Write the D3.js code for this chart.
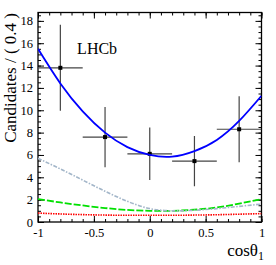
<!DOCTYPE html>
<html>
<head>
<meta charset="utf-8">
<script src="https://cdn.jsdelivr.net/npm/d3@7"></script>
<style>
  body { margin: 0; background: #fff; }
  svg, svg text { font-family: "Liberation Serif", "DejaVu Serif", serif; }
</style>
</head>
<body>
<div id="chart"></div>
<script>
// data points (bin centres, contents, errors)
const binCentres = [-0.8, -0.4, 0, 0.4, 0.8];
const binCounts = [13.8, 7.6, 6.1, 5.45, 8.3];
const binErrors = [3.85, 2.7, 2.35, 2.25, 2.95];
const binHalfWidth = 0.2;

// fit curves
const curveX = [-1, -0.8, -0.6, -0.4, -0.2, 0, 0.2, 0.4, 0.6, 0.8, 1];
const totalFit = [15.5, 12.4, 9.9, 8.0, 6.7, 6.0, 5.85, 6.35, 7.35, 9.05, 11.3];
const grayComp = [5.7, 4.75, 3.75, 2.75, 1.85, 1.2, 1.0, 1.05, 1.2, 1.4, 1.6];
const greenComp = [2.05, 1.75, 1.48, 1.25, 1.08, 1.0, 1.0, 1.1, 1.3, 1.65, 2.05];
const redComp = [0.8, 0.72, 0.66, 0.62, 0.6, 0.6, 0.6, 0.62, 0.65, 0.7, 0.75];

const xMajor = [-1, -0.5, 0, 0.5, 1];
const xTickLabels = ["-1", "-0.5", "0", "0.5", "1"];
const yMajor = [0, 2, 4, 6, 8, 10, 12, 14, 16, 18];

const W = 276, H = 265;
const margin = {top: 12.5, right: 14.5, bottom: 43, left: 38};
const width = W - margin.left - margin.right,
      height = H - margin.top - margin.bottom;

const svg = d3.select("#chart").append("svg").attr("width", W).attr("height", H)
  .attr("font-family", "Liberation Serif");
const g = svg.append("g").attr("transform", "translate(" + margin.left + "," + margin.top + ")");

const x = d3.scaleLinear().domain([-1, 1]).range([0, width]);
const y = d3.scaleLinear().domain([0, 18.75]).range([height, 0]);

const xMinor = d3.range(-10, 11).map(function (i) { return i / 10; });
const yMinor = d3.range(0, 38).map(function (i) { return i / 2; }).filter(function (v) { return v <= 18.7; });

function styleAxis(sel) {
  sel.attr("font-family", "Liberation Serif");
  sel.select(".domain").remove();
  sel.selectAll("line").attr("stroke", "#000").attr("stroke-width", 1);
  sel.selectAll("text").attr("font-family", "Liberation Serif").attr("font-size", 12.5).attr("fill", "#000");
}

// bottom
g.append("g").attr("transform", "translate(0," + height + ")")
  .call(d3.axisBottom(x).tickValues(xMinor).tickSizeInner(-3).tickFormat(""))
  .call(styleAxis);
g.append("g").attr("transform", "translate(0," + height + ")")
  .call(d3.axisBottom(x).tickValues(xMajor).tickSizeInner(-6).tickPadding(6)
    .tickFormat(function (d, i) { return xTickLabels[i]; }))
  .call(styleAxis);
// top
g.append("g")
  .call(d3.axisTop(x).tickValues(xMinor).tickSizeInner(-3).tickFormat(""))
  .call(styleAxis);
g.append("g")
  .call(d3.axisTop(x).tickValues(xMajor).tickSizeInner(-6).tickFormat(""))
  .call(styleAxis);
// left
g.append("g")
  .call(d3.axisLeft(y).tickValues(yMinor).tickSizeInner(-3).tickFormat(""))
  .call(styleAxis);
g.append("g")
  .call(d3.axisLeft(y).tickValues(yMajor).tickSizeInner(-6).tickPadding(5).tickFormat(d3.format("d")))
  .call(styleAxis);
// right
g.append("g").attr("transform", "translate(" + width + ",0)")
  .call(d3.axisRight(y).tickValues(yMinor).tickSizeInner(-3).tickFormat(""))
  .call(styleAxis);
g.append("g").attr("transform", "translate(" + width + ",0)")
  .call(d3.axisRight(y).tickValues(yMajor).tickSizeInner(-6).tickFormat(""))
  .call(styleAxis);

// frame
g.append("rect").attr("width", width).attr("height", height)
  .attr("fill", "none").attr("stroke", "#000").attr("stroke-width", 1.3);

svg.append("clipPath").attr("id", "clip").append("rect")
  .attr("width", width).attr("height", height);
const plot = g.append("g").attr("clip-path", "url(#clip)");

function lineFor(vals) {
  return d3.line()
    .x(function (d, i) { return x(curveX[i]); })
    .y(function (d) { return y(d); })
    .curve(d3.curveNatural)(vals);
}

plot.append("path").attr("d", lineFor(redComp)).attr("fill", "none")
  .attr("stroke", "#ff0000").attr("stroke-width", 1.6).attr("stroke-dasharray", "1.5,1");
plot.append("path").attr("d", lineFor(greenComp)).attr("fill", "none")
  .attr("stroke", "#00e000").attr("stroke-width", 1.8).attr("stroke-dasharray", "7,2");
plot.append("path").attr("d", lineFor(grayComp)).attr("fill", "none")
  .attr("stroke", "#a3b6c9").attr("stroke-width", 1.6).attr("stroke-dasharray", "4,1.5,1.5,1.5");

// data
const pts = plot.append("g").selectAll("g").data(binCentres).enter().append("g");
pts.append("line")
  .attr("x1", function (d) { return x(d - binHalfWidth); })
  .attr("x2", function (d) { return x(d + binHalfWidth); })
  .attr("y1", function (d, i) { return y(binCounts[i]); })
  .attr("y2", function (d, i) { return y(binCounts[i]); })
  .attr("stroke", "#444").attr("stroke-width", 1.2);
pts.append("line")
  .attr("x1", function (d) { return x(d); })
  .attr("x2", function (d) { return x(d); })
  .attr("y1", function (d, i) { return y(binCounts[i] - binErrors[i]); })
  .attr("y2", function (d, i) { return y(binCounts[i] + binErrors[i]); })
  .attr("stroke", "#444").attr("stroke-width", 1.2);

plot.append("path").attr("d", lineFor(totalFit)).attr("fill", "none")
  .attr("stroke", "#0000ff").attr("stroke-width", 1.8);

pts.append("rect")
  .attr("x", function (d) { return x(d) - 2; })
  .attr("y", function (d, i) { return y(binCounts[i]) - 2; })
  .attr("width", 4).attr("height", 4).attr("fill", "#000");

// LHCb label
g.append("text").attr("x", x(-0.65)).attr("y", y(15.05))
  .attr("font-size", 16).attr("fill", "#000").text("LHCb");

// axis titles
svg.append("text")
  .attr("transform", "translate(16,13) rotate(-90)")
  .attr("text-anchor", "end").attr("font-size", 17).attr("fill", "#000")
  .text("Candidates / ( 0.4 )");

const xt = svg.append("text").attr("x", W - 12).attr("y", 256)
  .attr("text-anchor", "end").attr("font-size", 17).attr("fill", "#000");
xt.append("tspan").text("cosθ");
xt.append("tspan").attr("font-size", 12).attr("dy", 4).text("1");
</script>
</body>
</html>
